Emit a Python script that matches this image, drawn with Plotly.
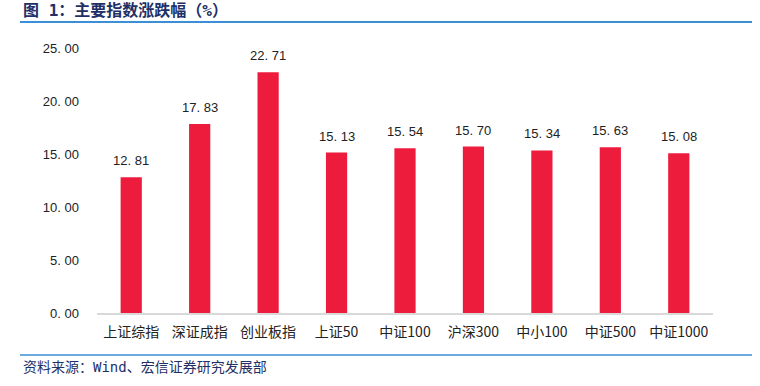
import plotly.graph_objects as go

categories = ["上证综指", "深证成指", "创业板指", "上证50", "中证100", "沪深300", "中小100", "中证500", "中证1000"]
values = [12.81, 17.83, 22.71, 15.13, 15.54, 15.70, 15.34, 15.63, 15.08]
y_ticks = [0, 5, 10, 15, 20, 25]
y_ticktext = ["0. 00", "5. 00", "10. 00", "15. 00", "20. 00", "25. 00"]

title_text = "图 1：主要指数涨跌幅（%）"
source_text = "资料来源：Wind、宏信证券研究发展部"

font_family = "Liberation Sans, Arial, Noto Sans CJK SC, sans-serif"
cjk_mono = "DejaVu Sans Mono, Noto Sans CJK SC, monospace"

W, H = 760, 386
L, R, T, B = 97, 713, 48, 313  # plot area in page pixels

plot_w = R - L
plot_h = B - T

def px_x(x):
    return (x - L) / plot_w

def px_y(y):
    return (B - y) / plot_h

fig = go.Figure()
fig.add_trace(go.Bar(
    x=categories,
    y=values,
    marker=dict(color="#EE1C3C", line=dict(width=0)),
    hoverinfo="x+y",
))

for c, v in zip(categories, values):
    fig.add_annotation(x=c, y=v, text=f"{v:.2f}".replace(".", ". "),
                       showarrow=False, yanchor="bottom", yshift=7,
                       font=dict(size=13, color="#222222", family=font_family))

fig.update_layout(
    width=W,
    height=H,
    margin=dict(l=L, r=W - R, t=T, b=H - B, autoexpand=False),
    paper_bgcolor="white",
    plot_bgcolor="white",
    bargap=0.69,
    showlegend=False,
    font=dict(family=font_family, size=13, color="#222222"),
    xaxis=dict(
        showline=True, linecolor="#D9D9D9", linewidth=1.5,
        showgrid=False, ticks="", automargin=False, ticklabelstandoff=5,
        tickfont=dict(size=14, color="#222222", family="Noto Sans CJK SC, sans-serif"),
    ),
    yaxis=dict(
        range=[0, 25], tickvals=y_ticks, ticktext=y_ticktext, automargin=False,
        showgrid=False, zeroline=False, showline=False, ticks="",
        ticklen=0, ticklabelstandoff=17, tickfont=dict(size=13, color="#222222"),
    ),
)

fig.add_shape(type="line", xref="paper", yref="paper",
              x0=px_x(20), x1=px_x(752), y0=px_y(22), y1=px_y(22),
              line=dict(color="#3A8FD6", width=2))
fig.add_shape(type="line", xref="paper", yref="paper",
              x0=px_x(20), x1=px_x(752), y0=px_y(355), y1=px_y(355),
              line=dict(color="#3A8FD6", width=1.5))

fig.add_annotation(text=f"<b>{title_text}</b>", xref="paper", yref="paper",
                   x=px_x(21), y=px_y(10), xanchor="left", yanchor="middle",
                   showarrow=False,
                   font=dict(size=16, color="#1F3068", family=cjk_mono))
fig.add_annotation(text=source_text, xref="paper", yref="paper",
                   x=px_x(21), y=px_y(367), xanchor="left", yanchor="middle",
                   showarrow=False,
                   font=dict(size=14, color="#1F3068", family=cjk_mono))

fig.write_html("out.html",
               config={"displayModeBar": False},
               post_script="document.body.style.margin='0';document.body.style.padding='0';document.body.style.overflow='hidden';")
